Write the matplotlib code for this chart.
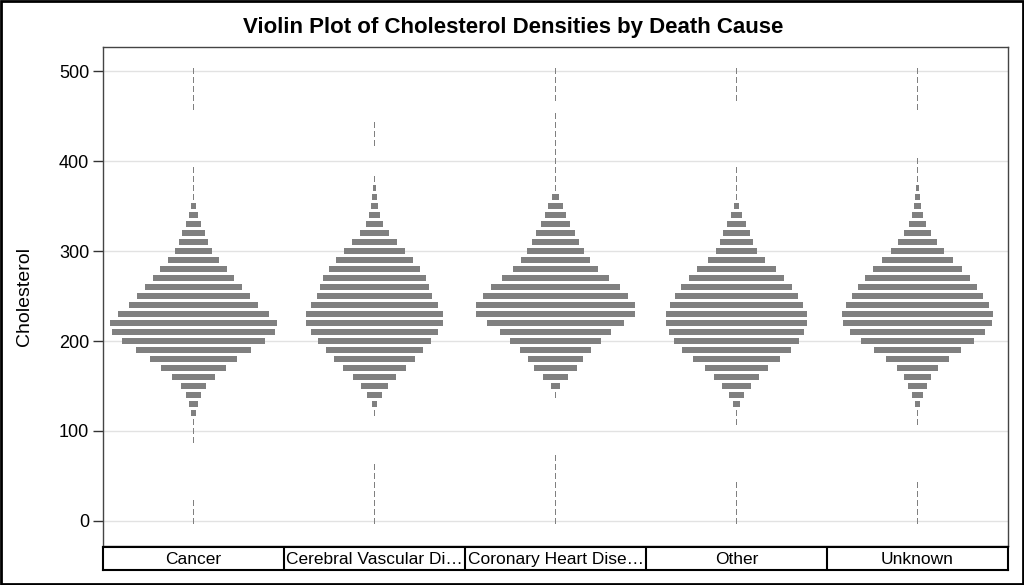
import numpy as np
import matplotlib
matplotlib.use("Agg")
import matplotlib.pyplot as plt
from matplotlib.patches import Rectangle

plt.rcParams["font.family"] = ["Liberation Sans", "DejaVu Sans"]

# Cholesterol bins (bin centers)
bins = [0, 10, 20, 30, 40, 50, 60, 70, 80, 90,
        100, 110, 120, 130, 140, 150, 160, 170, 180, 190,
        200, 210, 220, 230, 240, 250, 260, 270, 280, 290,
        300, 310, 320, 330, 340, 350, 360, 370, 380, 390,
        400, 410, 420, 430, 440, 450, 460, 470, 480, 490, 500]

causes = ["Cancer", "Cerebral Vascular Di\u2026", "Coronary Heart Dise\u2026", "Other", "Unknown"]

# relative violin widths per bin (widest bar = 500)
cancer = [3, 3, 3, 0, 0, 0, 0, 0, 0, 3,
          3, 3, 14, 27, 43, 74, 127, 193, 262, 346,
          429, 491, 500, 451, 385, 337, 289, 245, 201, 153,
          114, 87, 69, 47, 26, 14, 3, 3, 3, 3,
          0, 0, 0, 0, 0, 0, 3, 3, 3, 3, 3]
cerebral = [3, 3, 3, 3, 3, 3, 3, 0, 0, 0,
            0, 0, 3, 18, 43, 82, 130, 188, 241, 289,
            338, 381, 411, 411, 381, 346, 329, 311, 276, 232,
            185, 136, 88, 52, 31, 22, 13, 7, 3, 0,
            0, 0, 3, 3, 3, 0, 0, 0, 0, 0, 0]
coronary = [3, 3, 3, 3, 3, 3, 3, 3, 0, 0,
            0, 0, 0, 0, 6, 28, 76, 128, 168, 213,
            271, 332, 410, 476, 476, 438, 390, 324, 258, 210,
            174, 144, 116, 90, 64, 43, 20, 5, 5, 4,
            3, 3, 3, 3, 3, 3, 0, 3, 3, 3, 3]
other = [3, 3, 3, 3, 3, 0, 0, 0, 0, 0,
         0, 3, 6, 20, 46, 86, 134, 192, 262, 328,
         376, 406, 424, 424, 398, 368, 332, 288, 236, 174,
         126, 100, 82, 60, 34, 16, 4, 3, 3, 3,
         0, 0, 0, 0, 0, 0, 0, 3, 3, 3, 3]
unknown = [3, 3, 3, 3, 3, 0, 0, 0, 0, 0,
           0, 3, 6, 16, 34, 56, 82, 125, 187, 262,
           337, 407, 446, 451, 429, 394, 358, 315, 266, 214,
           162, 117, 82, 52, 35, 20, 16, 11, 6, 3,
           3, 0, 0, 0, 0, 0, 3, 3, 5, 3, 5]

series = [cancer, cerebral, coronary, other, unknown]

fig = plt.figure(figsize=(10.24, 5.85), dpi=100)
fig.patches.append(Rectangle((0.001, 0.002), 0.998, 0.996, transform=fig.transFigure,
                             fill=False, edgecolor="black", linewidth=2))

ax = fig.add_axes([103 / 1024, 39 / 585, 905 / 1024, 499 / 585])
scale = 0.92 / 500.0
for i, w in enumerate(series):
    w = np.array(w, dtype=float)
    y = np.array(bins, dtype=float)
    keep = w > 0
    ax.barh(y[keep], w[keep] * scale, height=7, left=i - w[keep] * scale / 2,
            color="#808080", edgecolor="none", zorder=3)

ax.set_xlim(-0.5, 4.5)
ax.set_ylim(-27.8, 526.7)
ax.set_yticks([0, 100, 200, 300, 400, 500])
ax.set_xticks([])
ax.yaxis.grid(True, color="#e2e2e2", linewidth=1)
ax.set_axisbelow(True)
ax.tick_params(axis="y", labelsize=13, length=7, width=1, color="#333333", pad=3)
for s in ax.spines.values():
    s.set_color("#444444")
    s.set_linewidth(1)

# category table under the plot
tab = fig.add_axes([103 / 1024, 15 / 585, 905 / 1024, 23 / 585])
tab.set_xlim(-0.5, 4.5)
tab.set_ylim(0, 1)
tab.set_xticks([])
tab.set_yticks([])
for s in tab.spines.values():
    s.set_color("black")
    s.set_linewidth(1.5)
for k in range(1, len(causes)):
    tab.axvline(k - 0.5, color="black", linewidth=1.5)
for i, c in enumerate(causes):
    tab.text(i, 0.45, c, ha="center", va="center", fontsize=12.5)

fig.text(0.501, 1 - 33 / 585, "Violin Plot of Cholesterol Densities by Death Cause",
         ha="center", va="baseline", fontsize=16, fontweight="bold")
fig.text(25 / 1024, 1 - 297 / 585, "Cholesterol", rotation=90,
         ha="center", va="center", fontsize=14)

fig.savefig("out.png", dpi=100)
